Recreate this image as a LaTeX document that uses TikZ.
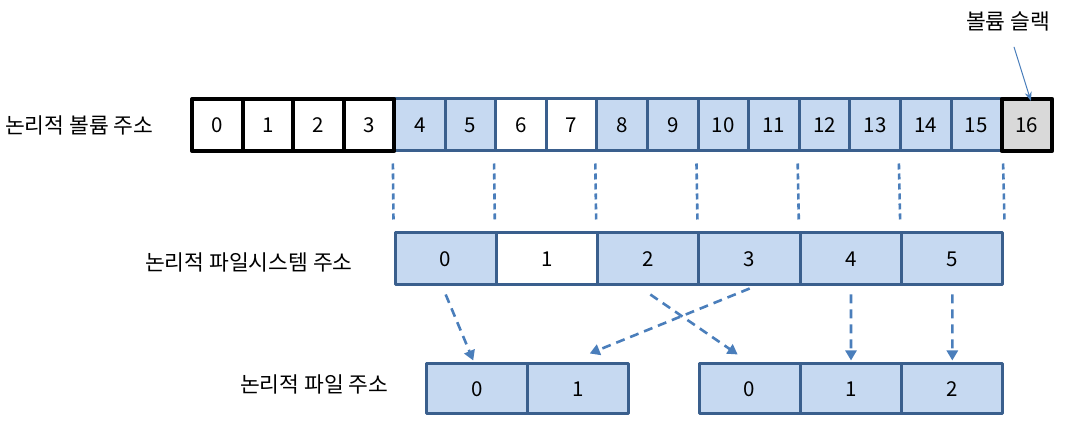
\documentclass[tikz,border=0pt]{standalone}
\usepackage{fontspec}
\setmainfont{Noto Sans CJK KR}
\usetikzlibrary{arrows.meta,calc}
\definecolor{cellblue}{HTML}{C6D9F1}
\definecolor{edgeblue}{HTML}{3A5F8D}
\definecolor{dashblue}{HTML}{4A7EBB}
\definecolor{slackgray}{HTML}{D9D9D9}
\begin{document}
\begin{tikzpicture}[x=1pt,y=-1pt,
  cellbase/.style={draw, inner sep=0pt, font=\fontsize{20.5}{22}\selectfont, line join=round},
  topcell/.style={cellbase, minimum width=50.6pt, minimum height=52pt},
  midcell/.style={cellbase, minimum width=101.33pt, minimum height=52pt},
  botcell/.style={cellbase, minimum width=100.6pt, minimum height=50pt},
  bluecell/.style={fill=cellblue, draw=edgeblue, line width=3pt},
  whiteblue/.style={fill=white, draw=edgeblue, line width=3pt},
  blackcell/.style={fill=white, draw=black, line width=4pt},
  graycell/.style={fill=slackgray, draw=black, line width=4pt},
  lab/.style={font=\fontsize{21.5}{24}\selectfont, inner sep=0pt, anchor=west},
  guide/.style={draw=dashblue, line width=2.6pt, dash pattern=on 6pt off 4pt},
  maparrow/.style={draw=dashblue, line width=2.6pt, dash pattern=on 9pt off 6pt, -{Triangle[length=10pt,width=11pt]}},
]
\useasboundingbox (0,0) rectangle (1069,427);
% top row (logical volume addresses)
\foreach \i in {4,5,8,9,10,11,12,13,14,15}
  \node[topcell,bluecell] (v\i) at ({192+50.6*(\i+0.5)},125) {\i};
\foreach \i in {6,7}
  \node[topcell,whiteblue] (v\i) at ({192+50.6*(\i+0.5)},125) {\i};
\foreach \i in {0,1,2,3}
  \node[topcell,blackcell] (v\i) at ({192+50.6*(\i+0.5)},125) {\i};
\node[topcell,graycell] (v16) at ({192+50.6*16.5},125) {16};
% middle row (logical file system addresses)
\foreach \i in {0,2,3,4,5}
  \node[midcell,bluecell] (f\i) at ({395+101.33*(\i+0.5)},259) {\i};
\node[midcell,whiteblue] (f1) at ({395+101.33*1.5},259) {1};
% bottom rows (logical file addresses)
\node[botcell,bluecell] (a0) at ({427+100.5*0.5},389) {0};
\node[botcell,bluecell] (a1) at ({427+100.5*1.5},389) {1};
\node[midcell,bluecell,minimum height=50pt] (b0) at ({699+101.33*0.5},389) {0};
\node[midcell,bluecell,minimum height=50pt] (b1) at ({699+101.33*1.5},389) {1};
\node[midcell,bluecell,minimum height=50pt] (b2) at ({699+101.33*2.5},389) {2};
% labels
\node[lab] (l1) at (5,125) {논리적 볼륨 주소};
\node[lab] (l2) at (145,262) {논리적 파일시스템 주소};
\node[lab] (l3) at (240,384) {논리적 파일 주소};
\node[font=\fontsize{21.5}{24}\selectfont, inner sep=0pt] (slack) at (1008,21) {볼륨 슬랙};
% guide lines
\foreach \t/\m in {4/0,6/1,8/2,10/3,12/4,14/5}
  \draw[guide] ([yshift=-11pt]v\t.south west) -- ([yshift=10pt]f\m.north west);
\draw[guide] ([yshift=-11pt]v15.south east) -- ([yshift=10pt]f5.north east);
% mapping arrows
\draw[maparrow] ([yshift=-8pt]f0.south) -- ([xshift=-4pt,yshift=2pt]a0.north);
\draw[maparrow] ([xshift=2pt,yshift=-8pt]f2.south) -- ([xshift=-12pt,yshift=8pt]b0.north);
\draw[maparrow] ([yshift=-2pt]f3.south) -- ([xshift=12pt,yshift=9pt]a1.north);
\draw[maparrow] ([yshift=-8pt]f4.south) -- ([yshift=2pt]b1.north);
\draw[maparrow] ([yshift=-8pt]f5.south) -- ([yshift=2pt]b2.north);
% slack pointer
\draw[draw=dashblue, line width=1pt, -{Stealth[length=9pt,width=7pt]}] ([xshift=6pt,yshift=-16pt]slack.south) -- ([xshift=4pt,yshift=-4pt]v16.north);
\end{tikzpicture}
\end{document}
